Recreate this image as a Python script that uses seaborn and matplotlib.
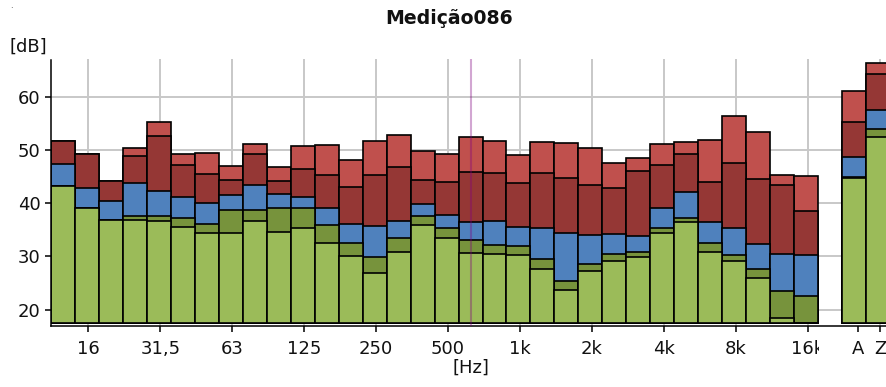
import numpy as np
import pandas as pd
import matplotlib
matplotlib.use("Agg")
import matplotlib.pyplot as plt
from matplotlib.transforms import Bbox, TransformedBbox
import seaborn as sns

# Third-octave bands (12,5 Hz .. 16 kHz) followed by the A and Z totals
bands = ["12,5", "16", "20", "25", "31,5", "40", "50", "63", "80", "100",
         "125", "160", "200", "250", "315", "400", "500", "630", "800", "1k",
         "1,25k", "1,6k", "2k", "2,5k", "3,15k", "4k", "5k", "6,3k", "8k", "10k",
         "12,5k", "16k", "A", "Z"]

# Levels in dB, one list per statistic (highest to lowest)
level_max = [51.6, 49.2, 44.1, 50.3, 55.2, 49.3, 49.5, 46.9, 51.1, 46.7,
             50.8, 50.9, 48.1, 51.7, 52.9, 49.8, 49.3, 52.4, 51.7, 49.1,
             51.5, 51.3, 50.4, 47.6, 48.45, 51.15, 51.5, 51.8, 56.3, 53.35,
             45.2, 45.1, 61.1, 66.4]
level_high = [51.6, 49.2, 44.1, 48.9, 52.7, 47.1, 45.4, 44.4, 49.3, 44.2,
              46.4, 45.2, 43.05, 45.3, 46.7, 44.4, 44.05, 45.8, 45.7, 43.7,
              45.75, 44.8, 43.4, 42.9, 46.1, 47.25, 49.3, 43.9, 47.5, 44.55,
              43.4, 38.5, 55.3, 64.2]
level_eq = [47.3, 42.8, 40.4, 43.8, 42.2, 41.2, 40.1, 41.5, 43.4, 41.7,
            41.2, 39.0, 36.0, 35.7, 36.65, 39.8, 37.7, 36.4, 36.65, 35.6,
            35.3, 34.3, 33.95, 34.2, 33.9, 39.15, 42.1, 36.4, 35.3, 32.4,
            30.4, 30.25, 48.6, 57.5]
level_low = [43.2, 39.0, 36.9, 37.65, 37.5, 37.15, 36.1, 38.7, 38.8, 39.1,
             39.0, 35.8, 32.6, 29.9, 33.4, 37.5, 35.3, 33.1, 32.1, 31.9,
             29.55, 25.35, 28.55, 30.4, 30.8, 35.4, 37.3, 32.6, 30.2, 27.55,
             23.4, 22.6, 45.0, 53.9]
level_min = [43.2, 39.0, 36.9, 36.8, 36.7, 35.6, 34.45, 34.45, 36.65, 34.6,
             35.4, 32.6, 30.0, 26.8, 30.9, 35.9, 33.4, 30.55, 30.4, 30.3,
             27.7, 23.7, 27.2, 29.2, 29.9, 34.3, 36.5, 30.9, 29.2, 26.0,
             18.4, 17.4, 44.7, 52.4]

layer_colors = ["#C0504D", "#953735", "#4F81BD", "#77933C", "#9BBB59"]
octave_labels = ["16", "31,5", "63", "125", "250", "500", "1k", "2k", "4k", "8k", "16k"]
cursor_band = "630"

floor_db = 17.4
y_limits = (17.0, 67.0)
y_ticks = [20, 30, 40, 50, 60]

sns.set_theme(style="white")
plt.rcParams["font.family"] = ["DejaVu Sans"]

W, H = 887, 387
fig = plt.figure(figsize=(W / 100, H / 100), dpi=100)
ax = fig.add_axes([51 / W, (H - 325.5) / H, 875 / W, 266 / H])

order = bands[:32] + [" "] + bands[32:]
layers = [level_max, level_high, level_eq, level_low, level_min]
for values, colour in zip(layers, layer_colors):
    df = pd.DataFrame({"band": bands,
                       "level": np.array(values) - floor_db})
    sns.barplot(data=df, x="band", y="level", order=order, color=colour,
                saturation=1, width=1.0, errorbar=None, bottom=floor_db,
                edgecolor="black", linewidth=1.2, ax=ax)

pos = {b: i for i, b in enumerate(order)}

ax.set_xlim(-0.5, 36.0)
ax.set_ylim(*y_limits)
ax.set_xlabel("")
ax.set_ylabel("")

major_labels = octave_labels + ["Z"]
major_pos = [pos[b] + 0.06 for b in octave_labels] + [pos["Z"] + 0.08]
ax.set_xticks(major_pos, major_labels)
ax.set_xticks([pos["A"] + 0.15], ["A"], minor=True)
ax.set_yticks(y_ticks, [str(t) for t in y_ticks])

ax.set_axisbelow(True)
ax.grid(True, which="major", color="#C8C8C8", linewidth=1.4)

for side in ("top", "right"):
    ax.spines[side].set_visible(False)
for side in ("left", "bottom"):
    ax.spines[side].set_color("black")
    ax.spines[side].set_linewidth(1.1)

ax.tick_params(axis="both", which="both", direction="out", length=4.5,
               width=1.1, color="black", labelsize=13, labelcolor="#111111")
ax.tick_params(axis="x", which="both", bottom=True, pad=6)
ax.tick_params(axis="y", left=True, pad=3)

# band labels are clipped at the end of the spectrum area
clip = TransformedBbox(Bbox.from_extents(0, 0, 819 / W, 1), fig.transFigure)
for lab in ax.get_xticklabels():
    if lab.get_text() == "16k":
        lab.set_clip_on(True)
        lab.set_clip_box(clip)

# cursor line on the selected band
ax.axvline(pos[cursor_band], color="#800080", alpha=0.35, linewidth=1.5, zorder=5)

fig.text(449 / W, 1 - 19 / H, "Medição086", ha="center", va="center",
         fontsize=13.6, fontweight="bold", color="#111111")
fig.text(10 / W, 1 - 47 / H, "[dB]", ha="left", va="center",
         fontsize=13, color="#111111")
fig.text(471 / W, 1 - 368 / H, "[Hz]", ha="center", va="center",
         fontsize=13, color="#111111")
fig.text(11 / W, 1 - 5 / H, ".", ha="center", va="center", fontsize=6, color="#333333")

fig.savefig("out.png", dpi=100, facecolor="white")
